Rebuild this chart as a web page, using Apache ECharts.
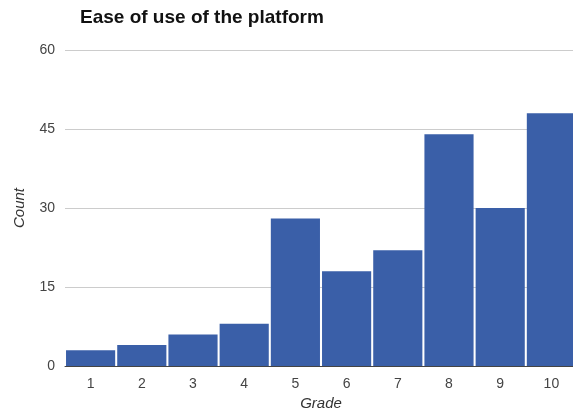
<!DOCTYPE html>
<html>
<head>
<meta charset="utf-8">
<script src="https://cdn.jsdelivr.net/npm/echarts@6/dist/echarts.min.js"></script>
<style>
  html, body { margin: 0; padding: 0; background: #fff; }
  #chart { width: 573px; height: 417px; }
</style>
</head>
<body>
<div id="chart"></div>
<script>
// Grades awarded for ease of use, and how many respondents gave each
const grades = ['1', '2', '3', '4', '5', '6', '7', '8', '9', '10'];
const counts = [3, 4, 6, 8, 28, 18, 22, 44, 30, 48];
const yTicks = { min: 0, max: 60, interval: 15 };

const FONT = 'Liberation Sans, Arial, sans-serif';

const chart = echarts.init(document.getElementById('chart'));
chart.setOption({
  animation: false,
  backgroundColor: '#ffffff',
  title: {
    text: 'Ease of use of the platform',
    left: 75,
    top: 3,
    textStyle: { fontFamily: FONT, fontSize: 19, fontWeight: 'bold', color: '#111' }
  },
  // the plot area runs a little past the right edge of the page
  grid: {
    left: 65, width: 512, top: 50, bottom: 51,
    containLabel: false,
    outerBoundsMode: 'none'
  },
  xAxis: {
    type: 'category',
    data: grades,
    name: 'Grade',
    nameLocation: 'middle',
    nameGap: 30,
    nameTextStyle: { fontFamily: FONT, fontSize: 15, fontStyle: 'italic', color: '#333' },
    axisLine: { lineStyle: { color: '#444', width: 1 } },
    axisTick: { show: false },
    axisLabel: { fontFamily: FONT, fontSize: 14, color: '#444', margin: 11 }
  },
  yAxis: {
    type: 'value',
    min: yTicks.min,
    max: yTicks.max,
    interval: yTicks.interval,
    name: 'Count',
    nameLocation: 'middle',
    nameGap: 38,
    nameRotate: 90,
    nameTextStyle: { fontFamily: FONT, fontSize: 15, fontStyle: 'italic', color: '#333' },
    axisLine: { show: false },
    axisTick: { show: false },
    axisLabel: { fontFamily: FONT, fontSize: 14, color: '#444', margin: 10 },
    splitLine: { lineStyle: { color: '#cccccc', width: 1 } }
  },
  series: [{
    type: 'bar',
    data: counts,
    barCategoryGap: '4%',
    itemStyle: { color: '#3a5fa8' }
  }]
});
</script>
</body>
</html>
